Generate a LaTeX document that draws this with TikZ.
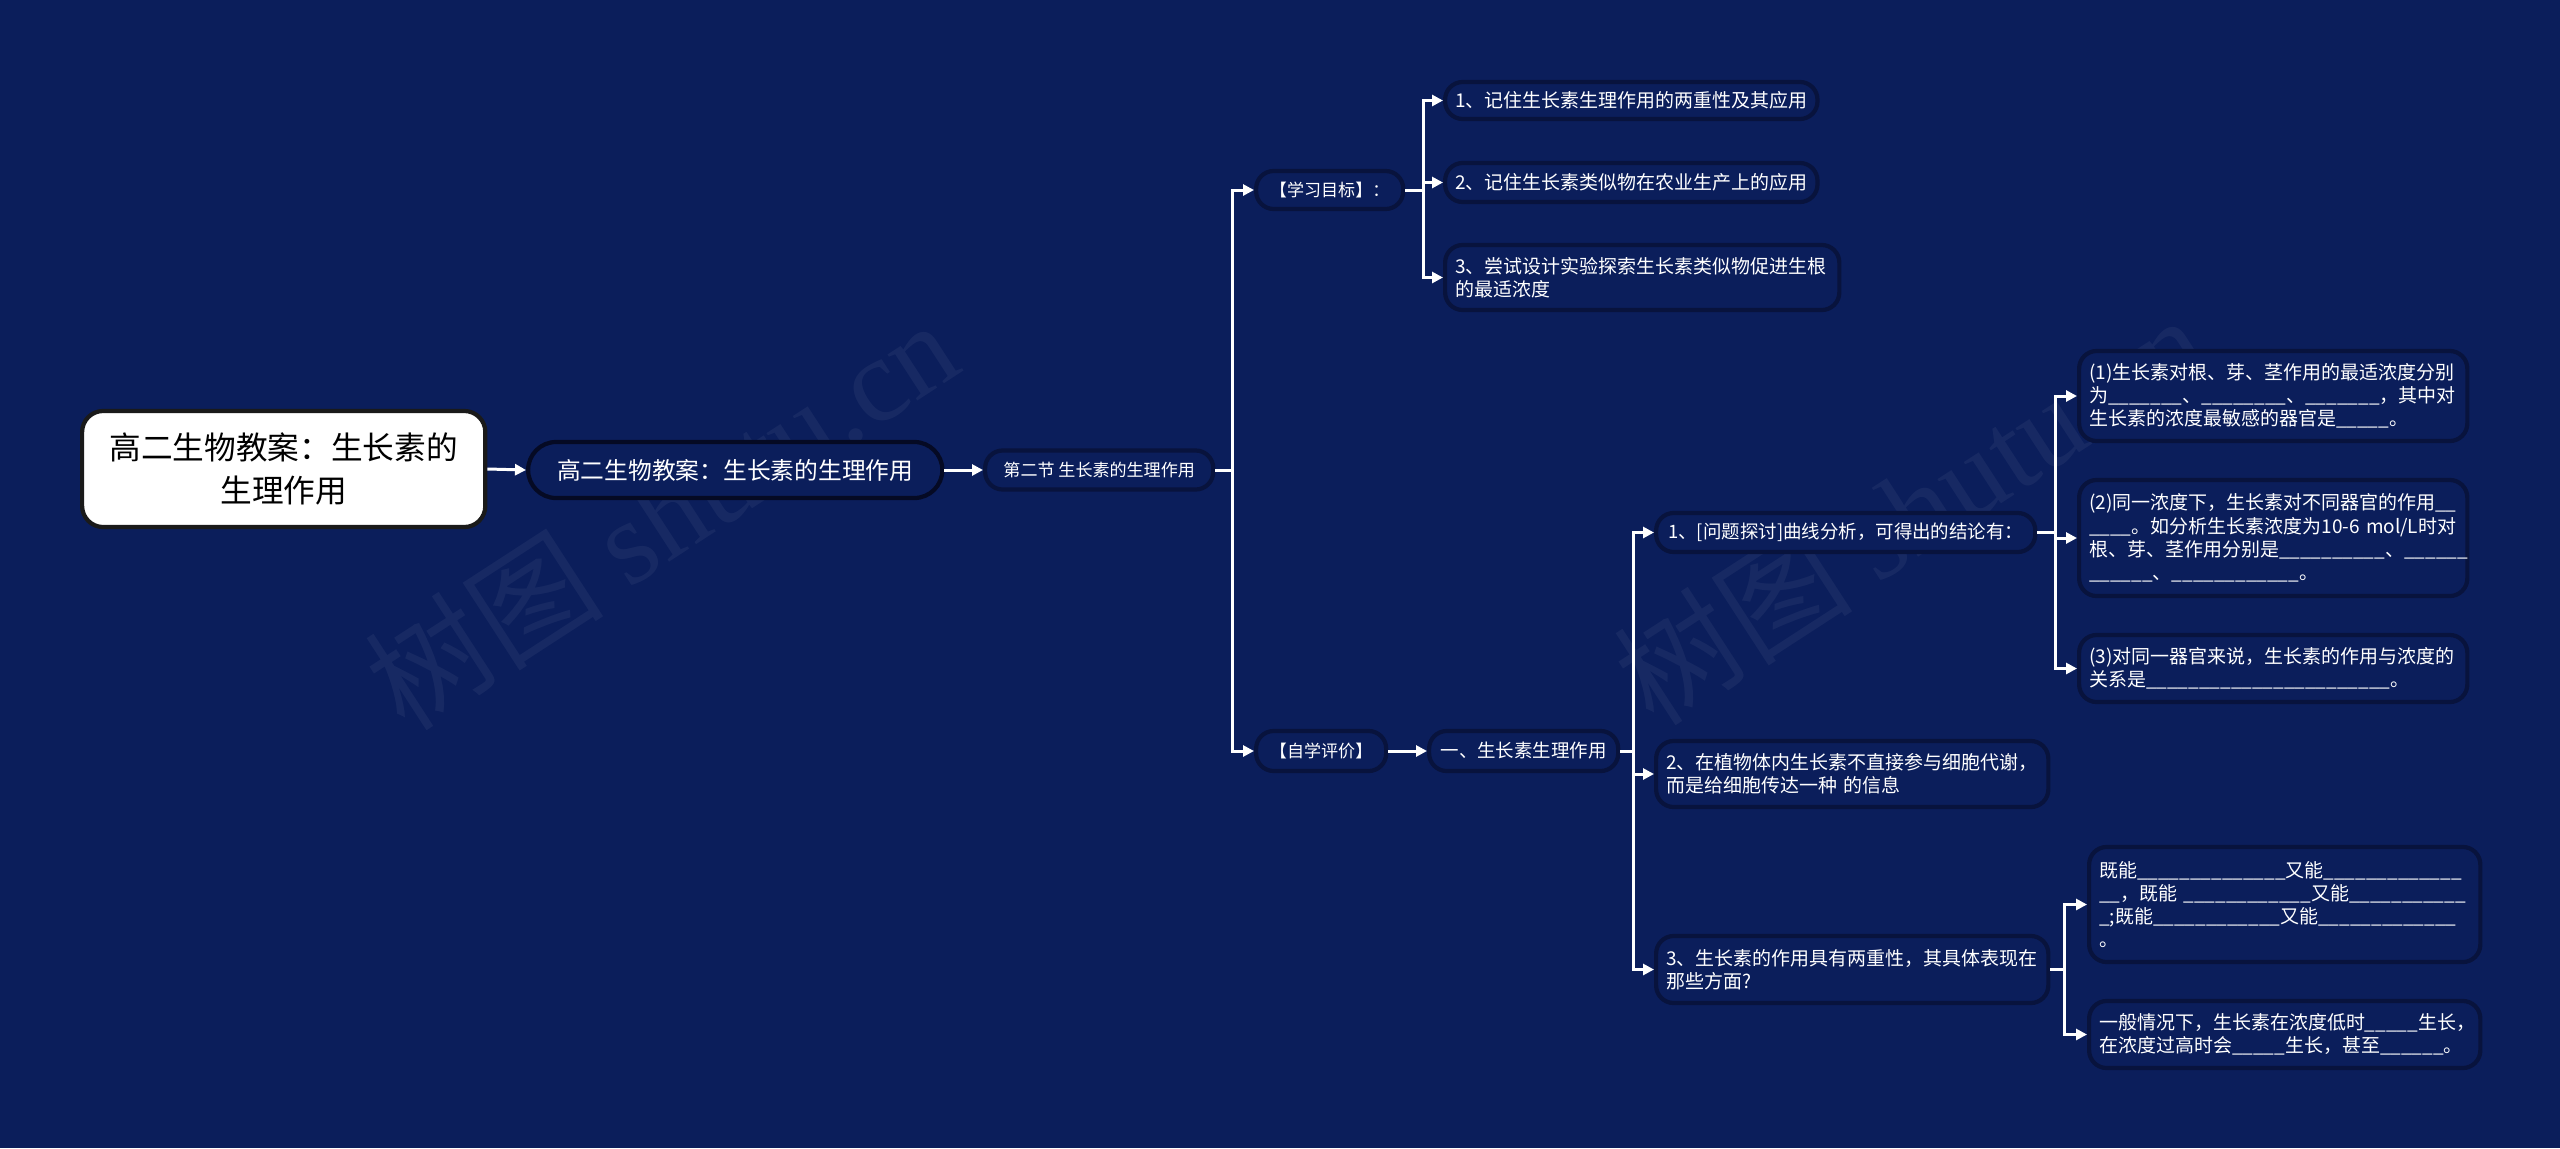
\documentclass[tikz,border=0pt]{standalone}
\usepackage{fontspec}
\setmainfont{Noto Sans CJK SC}
\newfontfamily\markfont{Liberation Serif}
\usetikzlibrary{arrows.meta, positioning, calc}
\definecolor{navybg}{HTML}{0B1E5B}
\definecolor{boxedge}{HTML}{08133D}
\definecolor{pilledge}{HTML}{050A24}
\definecolor{rootedge}{HTML}{1A1A1A}

\newcount\fillcount
\newcommand{\fillin}[1]{\fillcount=#1\relax\loop\ifnum\fillcount>0 \_\advance\fillcount by -1\relax\repeat}

\tikzset{
  topic/.style={draw=boxedge, line width=1.2pt, fill=navybg, rounded corners=5pt,
    text=white, anchor=west, align=left, inner xsep=0.1cm, inner ysep=0pt,
    font=\fontsize{5.4}{6.6}\selectfont},
  small/.style={font=\fontsize{4.85}{6}\selectfont, align=center},
  link/.style={white, line width=0.85pt, -{Triangle[length=0.11cm, width=0.11cm]}},
}

\begin{document}
\begin{tikzpicture}[x=0.01cm, y=-0.01cm]

% Background
\fill[navybg] (0,0) rectangle (2560,1148);

% Watermarks
\node[rotate=33, text=white, opacity=0.05, font=\fontsize{34}{34}\selectfont] at (661,514)
  {树图 {\markfont shutu.cn}};
\node[rotate=33, text=white, opacity=0.05, font=\fontsize{34}{34}\selectfont] at (1910,509)
  {树图 {\markfont shutu.cn}};

% Root and main line
\node[fill=white, draw=rootedge, line width=1.2pt, rounded corners=6pt, text=black,
  align=center, anchor=west, minimum width=4.03cm, minimum height=1.16cm,
  font=\fontsize{9}{12}\selectfont] (root) at (80,469)
  {高二生物教案：生长素的\\生理作用};
\node[draw=pilledge, line width=1.2pt, fill=navybg, rounded corners=0.28cm, text=white,
  anchor=west, minimum width=4.14cm, minimum height=0.56cm,
  font=\fontsize{6.75}{8}\selectfont] (title) at (526,470)
  {高二生物教案：生长素的生理作用};
\node[topic, small, minimum width=2.28cm, minimum height=0.39cm] (sec) at (983,470)
  {第二节 生长素的生理作用};

% Level two
\node[topic, small, minimum width=1.47cm, minimum height=0.38cm] (goal) at (1254,190)
  {【学习目标】：};
\node[topic, small, minimum width=1.30cm, minimum height=0.40cm] (selfeval) at (1254,751)
  {【自学评价】};

% Goals
\node[topic, align=center, minimum width=3.66cm, minimum height=0.37cm] (g1) at (1443,100.5)
  {1、记住生长素生理作用的两重性及其应用};
\node[topic, align=center, minimum width=3.66cm, minimum height=0.39cm] (g2) at (1443,182.5)
  {2、记住生长素类似物在农业生产上的应用};
\node[topic, text width=3.74cm, minimum height=0.65cm] (g3) at (1443,277.5)
  {3、尝试设计实验探索生长素类似物促进生根\\的最适浓度};

% Self evaluation
\node[topic, align=center, font=\fontsize{5.25}{6.4}\selectfont,
  minimum width=1.89cm, minimum height=0.40cm] (s1) at (1427,751)
  {一、生长素生理作用};
\node[topic, align=center, font=\fontsize{5.25}{6.4}\selectfont,
  minimum width=3.79cm, minimum height=0.39cm] (q1) at (1654,532.5)
  {1、[问题探讨]曲线分析，可得出的结论有：};
\node[topic, text width=3.72cm, minimum height=0.66cm] (q2) at (1654,774)
  {2、在植物体内生长素不直接参与细胞代谢，\\而是给细胞传达一种 的信息};
\node[topic, text width=3.72cm, minimum height=0.67cm] (q3) at (1654,969.5)
  {3、生长素的作用具有两重性，其具体表现在\\那些方面?};

% Conclusions
\node[topic, text width=3.68cm, minimum height=0.90cm] (a1) at (2077,396)
  {(1)生长素对根、芽、茎作用的最适浓度分别\\
   为\fillin{7}、\fillin{8}、\fillin{7}，其中对\\
   生长素的浓度最敏感的器官是\fillin{5}。};
\node[topic, text width=3.68cm, minimum height=1.16cm] (a2) at (2077,538)
  {(2)同一浓度下，生长素对不同器官的作用\fillin{2}\\
   \fillin{4}。如分析生长素浓度为10-6~mol/L时对\\
   根、芽、茎作用分别是\fillin{10}、\fillin{6}\\
   \fillin{6}、\fillin{12}。};
\node[topic, text width=3.68cm, minimum height=0.67cm] (a3) at (2077,668.5)
  {(3)对同一器官来说，生长素的作用与浓度的\\
   关系是\fillin{23}。};

% Two sides
\node[topic, text width=3.71cm, minimum height=1.15cm] (b1) at (2087,904.5)
  {既能\fillin{14}又能\fillin{13}\\
   \fillin{2}，既能~\fillin{12}又能\fillin{11}\\
   \fillin{1};既能\fillin{12}又能\fillin{13}\\
   。};
\node[topic, text width=3.71cm, minimum height=0.67cm] (b2) at (2087,1034.5)
  {一般情况下，生长素在浓度低时\fillin{5}生长，\\
   在浓度过高时会\fillin{5}生长，甚至\fillin{6}。};

% Connectors
\draw[link] (root.east) -- (title.west);
\draw[link] (title.east) -- (sec.west);
\draw[link] (sec.east) -- ++(17,0) |- (goal.west);
\draw[link] (sec.east) -- ++(17,0) |- (selfeval.west);
\foreach \c in {g1,g2,g3}
  \draw[link] (goal.east) -- ++(18,0) |- (\c.west);
\draw[link] (selfeval.east) -- (s1.west);
\foreach \c in {q1,q2,q3}
  \draw[link] (s1.east) -- ++(13,0) |- (\c.west);
\foreach \c in {a1,a2,a3}
  \draw[link] (q1.east) -- ++(18,0) |- (\c.west);
\foreach \c in {b1,b2}
  \draw[link] (q3.east) -- ++(14,0) |- (\c.west);

\end{tikzpicture}
\end{document}
